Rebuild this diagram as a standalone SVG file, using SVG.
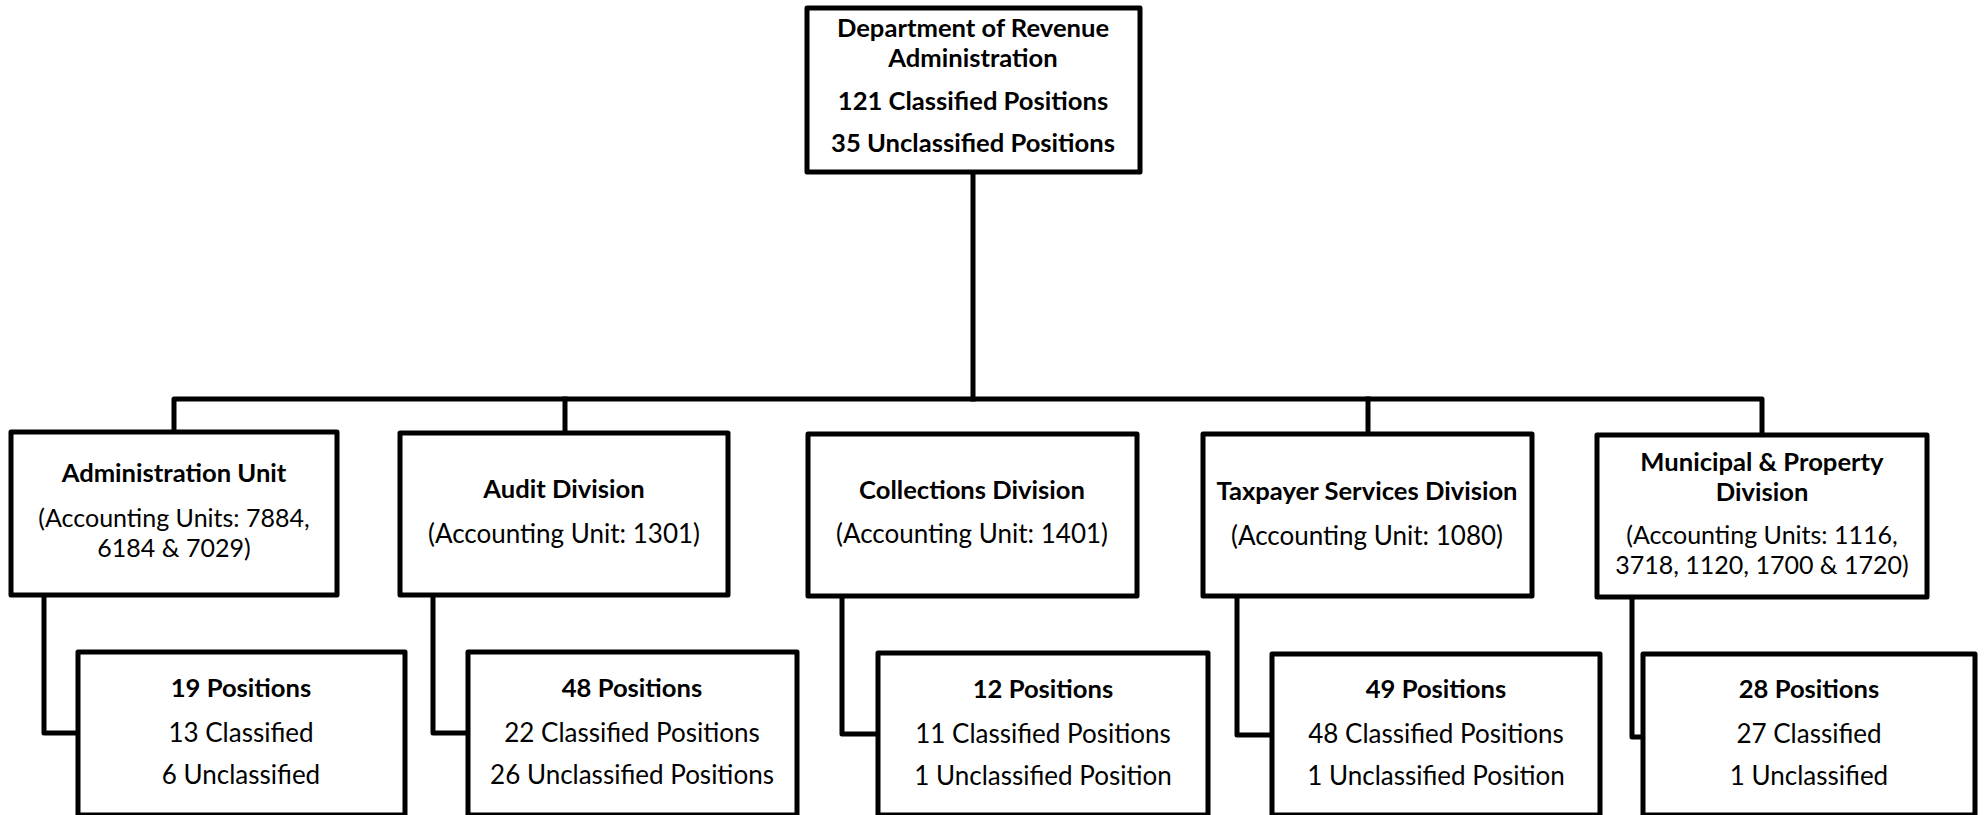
<svg xmlns="http://www.w3.org/2000/svg" width="1984" height="815" viewBox="0 0 1984 815">
<style>
.box{fill:#fff;stroke:#000;stroke-width:5;stroke-linejoin:round}
.ln{fill:none;stroke:#000;stroke-width:5;stroke-linejoin:round;stroke-linecap:square}
text{font-family:Lato,"Open Sans","Liberation Sans",sans-serif;font-size:26px;fill:#000;text-anchor:middle}
.b{font-weight:bold;font-size:25.6px}
.w{font-size:25px}
</style>
<rect width="1984" height="815" fill="#fff"/>
<g id="connectors">
<path class="ln" d="M973 172 V399"/>
<path class="ln" d="M174 432 V399 H1762 V434"/>
<path class="ln" d="M565 399 V433"/>
<path class="ln" d="M1368 399 V434"/>
<path class="ln" d="M44 595 V733 H78"/>
<path class="ln" d="M433 595 V733 H468"/>
<path class="ln" d="M842 596 V734 H878"/>
<path class="ln" d="M1237 596 V735 H1272"/>
<path class="ln" d="M1632 597 V737 H1643"/>
</g>
<g id="top">
<rect class="box" x="807" y="8" width="333" height="164"/>
<text class="b" x="973" y="37">Department of Revenue</text>
<text class="b" x="973" y="67">Administration</text>
<text class="b" x="973" y="110">121 Classified Positions</text>
<text class="b" x="973" y="152">35 Unclassified Positions</text>
</g>
<g id="admin">
<rect class="box" x="11" y="432" width="326" height="163"/>
<text class="b" x="174" y="482">Administration Unit</text>
<text class="w" x="174" y="527">(Accounting Units: 7884,</text>
<text class="w" x="174" y="557">6184 &amp; 7029)</text>
</g>
<g id="audit">
<rect class="box" x="400" y="433" width="328" height="162"/>
<text class="b" x="564" y="498">Audit Division</text>
<text x="564" y="543">(Accounting Unit: 1301)</text>
</g>
<g id="collections">
<rect class="box" x="808" y="434" width="329" height="162"/>
<text class="b" x="972" y="499">Collections Division</text>
<text x="972" y="543">(Accounting Unit: 1401)</text>
</g>
<g id="taxpayer">
<rect class="box" x="1203" y="434" width="329" height="162"/>
<text class="b" x="1367" y="500">Taxpayer Services Division</text>
<text x="1367" y="545">(Accounting Unit: 1080)</text>
</g>
<g id="municipal">
<rect class="box" x="1597" y="435" width="330" height="162"/>
<text class="b" x="1762" y="471">Municipal &amp; Property</text>
<text class="b" x="1762" y="501">Division</text>
<text class="w" x="1762" y="544">(Accounting Units: 1116,</text>
<text class="w" x="1762" y="574">3718, 1120, 1700 &amp; 1720)</text>
</g>
<g id="admin-pos">
<rect class="box" x="78" y="652" width="327" height="163"/>
<text class="b" x="241" y="697">19 Positions</text>
<text x="241" y="742">13 Classified</text>
<text x="241" y="784">6 Unclassified</text>
</g>
<g id="audit-pos">
<rect class="box" x="468" y="652" width="329" height="163"/>
<text class="b" x="632" y="697">48 Positions</text>
<text x="632" y="742">22 Classified Positions</text>
<text x="632" y="784">26 Unclassified Positions</text>
</g>
<g id="collections-pos">
<rect class="box" x="878" y="653" width="330" height="162"/>
<text class="b" x="1043" y="698">12 Positions</text>
<text x="1043" y="743">11 Classified Positions</text>
<text x="1043" y="785">1 Unclassified Position</text>
</g>
<g id="taxpayer-pos">
<rect class="box" x="1272" y="654" width="328" height="161"/>
<text class="b" x="1436" y="698">49 Positions</text>
<text x="1436" y="743">48 Classified Positions</text>
<text x="1436" y="785">1 Unclassified Position</text>
</g>
<g id="municipal-pos">
<rect class="box" x="1643" y="654" width="332" height="161"/>
<text class="b" x="1809" y="698">28 Positions</text>
<text x="1809" y="743">27 Classified</text>
<text x="1809" y="785">1 Unclassified</text>
</g>
</svg>
